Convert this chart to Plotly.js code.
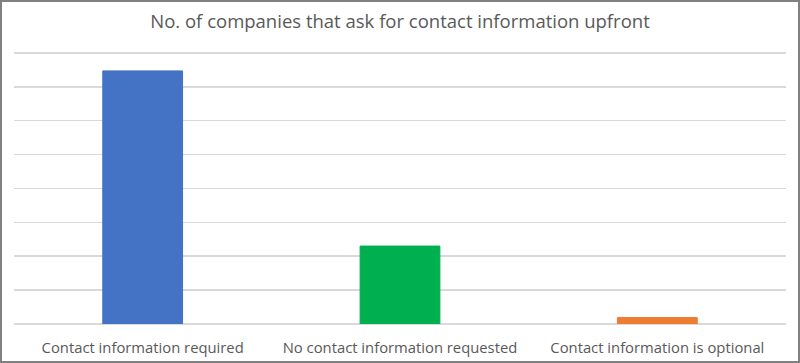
<!DOCTYPE html>
<html>
<head>
<meta charset="utf-8">
<script src="https://cdn.plot.ly/plotly-3.0.1.min.js"></script>
<style>
html,body{margin:0;padding:0;background:#fff;}
#wrap{width:800px;height:363px;box-sizing:border-box;border:2px solid #808080;overflow:hidden;}
#chart{width:796px;height:359px;}
</style>
</head>
<body>
<div id="wrap"><div id="chart"></div></div>
<script>
const categories = ["Contact information required", "No contact information requested", "Contact information is optional"];
const values = [7.47, 2.3, 0.19];
const barColors = ["#4472C4", "#00B050", "#ED7D31"];
const gridValues = [0, 1, 2, 3, 4, 5, 6, 7, 8];
const titleText = "No. of companies that ask for contact information upfront";

const trace = {
  type: "bar",
  x: categories,
  y: values,
  marker: {color: barColors, line: {color: barColors, width: 1}},
  hoverinfo: "x+y"
};

const layout = {
  width: 796,
  height: 359,
  margin: {l: 12, r: 12, t: 34, b: 37},
  paper_bgcolor: "rgba(0,0,0,0)",
  plot_bgcolor: "rgba(0,0,0,0)",
  bargap: 0.69,
  showlegend: false,
  font: {family: "Open Sans, sans-serif", color: "#595959"},
  title: {
    text: titleText,
    font: {family: "Open Sans, sans-serif", size: 18.5, color: "#595959"},
    x: 0.5, xanchor: "center",
    y: 1 - 20/359, yanchor: "middle", yref: "container"
  },
  xaxis: {
    type: "category",
    showgrid: false,
    showline: false,
    zeroline: false,
    ticks: "outside",
    ticklen: 10,
    tickcolor: "rgba(0,0,0,0)",
    tickfont: {family: "Open Sans, sans-serif", size: 14.8, color: "#595959"},
    fixedrange: true
  },
  yaxis: {
    range: [0, 8.5],
    tickmode: "array",
    tickvals: gridValues,
    showgrid: true,
    gridcolor: "#d9d9d9",
    gridwidth: 1.5,
    zeroline: true,
    zerolinecolor: "#d9d9d9",
    zerolinewidth: 1.5,
    showticklabels: false,
    ticks: "",
    showline: false,
    fixedrange: true
  }
};

Plotly.newPlot("chart", [trace], layout, {displayModeBar: false, staticPlot: true});
</script>
</body>
</html>
